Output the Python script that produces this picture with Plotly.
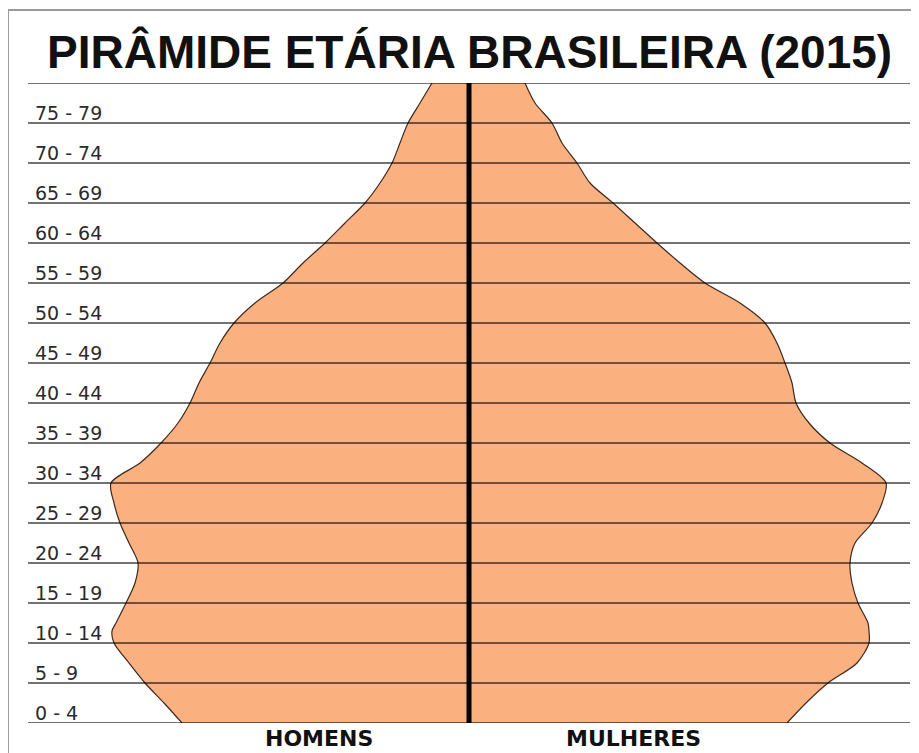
import plotly.graph_objects as go

# Age-group labels (one per 5-year band) and band boundaries
age_groups = ["0 - 4", "5 - 9", "10 - 14", "15 - 19", "20 - 24", "25 - 29",
              "30 - 34", "35 - 39", "40 - 44", "45 - 49", "50 - 54", "55 - 59",
              "60 - 64", "65 - 69", "70 - 74", "75 - 79"]
band_lows = [0, 5, 10, 15, 20, 25, 30, 35, 40, 45, 50, 55, 60, 65, 70, 75]
band_edges = [0, 5, 10, 15, 20, 25, 30, 35, 40, 45, 50, 55, 60, 65, 70, 75, 80]

# Outline profile of the pyramid (age, % of population)
profile_age = [0, 2.5, 5, 7.5, 10, 11.5, 12.5, 15, 17.5, 20, 22.5, 25, 27.5, 30,
               32.5, 35, 37.5, 40, 42.5, 45, 47.5, 50, 52.5, 55, 57.5, 60, 62.5,
               65, 67.5, 70, 72.5, 75, 77.5, 80]
homens = [2.87, 3.05, 3.24, 3.40, 3.55, 3.57, 3.53, 3.43, 3.34, 3.31, 3.40, 3.49,
          3.55, 3.58, 3.29, 3.08, 2.91, 2.79, 2.70, 2.59, 2.49, 2.35, 2.14, 1.86,
          1.66, 1.44, 1.24, 1.04, 0.89, 0.77, 0.69, 0.61, 0.49, 0.37]
mulheres = [3.18, 3.37, 3.59, 3.88, 4.00, 4.00, 3.99, 3.89, 3.83, 3.81, 3.86, 4.03,
            4.13, 4.17, 3.93, 3.61, 3.40, 3.27, 3.23, 3.16, 3.08, 2.96, 2.71, 2.36,
            2.11, 1.88, 1.66, 1.44, 1.21, 1.08, 0.93, 0.83, 0.66, 0.56]

title_text = "PIRÂMIDE ETÁRIA BRASILEIRA (2015)"
sex_labels = ["HOMENS", "MULHERES"]
sex_label_x = [-1.50, 1.64]

FILL = "#FAB07F"
EDGE = "#3a2a20"

fig = go.Figure()
fig.add_trace(go.Scatter(
    x=[-v for v in homens], y=profile_age, mode="lines",
    line=dict(color=EDGE, width=1.2, shape="spline", smoothing=0.8),
    fill="tozerox", fillcolor=FILL, hoverinfo="skip", showlegend=False))
fig.add_trace(go.Scatter(
    x=mulheres, y=profile_age, mode="lines",
    line=dict(color=EDGE, width=1.2, shape="spline", smoothing=0.8),
    fill="tozerox", fillcolor=FILL, hoverinfo="skip", showlegend=False))

shapes = []
for e in band_edges:
    shapes.append(dict(type="line", xref="paper", x0=0, x1=1, yref="y", y0=e, y1=e,
                       line=dict(color="rgba(0,0,0,0.55)", width=2), layer="above"))
shapes.append(dict(type="line", xref="x", x0=0, x1=0, yref="y", y0=0, y1=80.4,
                   line=dict(color="#000000", width=5), layer="above"))
# outer frame (left + top)
shapes.append(dict(type="line", xref="paper", yref="paper", x0=-0.0227, x1=-0.0227,
                   y0=1.114, y1=-0.06, line=dict(color="#9a9a9a", width=2)))
shapes.append(dict(type="line", xref="paper", yref="paper", x0=-0.0227, x1=1.02,
                   y0=1.114, y1=1.114, line=dict(color="#9a9a9a", width=2)))

annotations = []
for lab, lo in zip(age_groups, band_lows):
    annotations.append(dict(text=lab, xref="paper", x=0, xanchor="left", xshift=5,
                            yref="y", y=lo, yanchor="bottom", yshift=-3,
                            showarrow=False,
                            font=dict(family="DejaVu Sans", size=19, color="#2a2a2a")))
for lab, xv in zip(sex_labels, sex_label_x):
    annotations.append(dict(text=lab, xref="x", x=xv, xanchor="center",
                            yref="y", y=0, yanchor="top", yshift=-1,
                            showarrow=False,
                            font=dict(family="DejaVu Sans", size=22,
                                      color="#111111", weight="bold")))
annotations.append(dict(text=title_text, xref="paper", x=0.5, xanchor="center",
                        yref="paper", y=1, yanchor="bottom", yshift=3,
                        showarrow=False,
                        font=dict(family="Liberation Sans, Arial, sans-serif",
                                  size=46, color="#111111", weight="bold")))

# page body has an 8px default margin; figure is sized so the plot lands where the
# reference has it
fig.update_layout(
    width=911, height=745,
    margin=dict(l=20, r=9, t=75, b=30),
    paper_bgcolor="white", plot_bgcolor="white",
    xaxis=dict(range=[-4.41, 4.41], visible=False, fixedrange=True),
    yaxis=dict(range=[0, 80], visible=False, fixedrange=True),
    shapes=shapes, annotations=annotations, showlegend=False,
)

fig.write_html("out.html")
